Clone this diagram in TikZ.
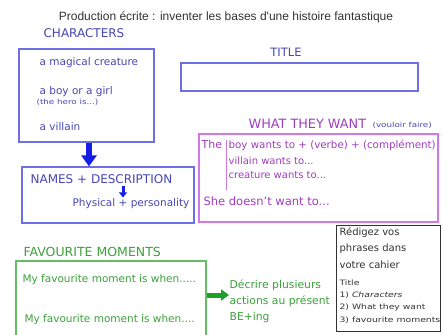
\documentclass[tikz,border=0pt]{standalone}
\usepackage{fontspec}
\setmainfont{DejaVu Sans}
\newfontfamily\headfont{Liberation Sans}
\newfontfamily\smallfont[FakeStretch=1.25]{DejaVu Sans}
\usetikzlibrary{arrows.meta}
\definecolor{bluetxt}{RGB}{70,70,180}
\definecolor{blueline}{RGB}{110,110,230}
\definecolor{bluearrow}{RGB}{20,30,230}
\definecolor{pinktxt}{RGB}{160,60,190}
\definecolor{pinkline}{RGB}{210,120,230}
\definecolor{greentxt}{RGB}{60,160,60}
\definecolor{greenline}{RGB}{100,190,100}
\definecolor{greenarrow}{RGB}{30,160,40}
\definecolor{greytxt}{RGB}{50,50,50}
\newcommand{\fs}[1]{\fontsize{#1}{#1}\selectfont}
\begin{document}
\begin{tikzpicture}[x=1pt,y=-1pt,line width=1.2pt,
  txt/.style={anchor=base west,inner sep=0pt},
  frame/.style={draw,inner sep=0pt},
  fat/.style={line width=#1,line cap=butt}]
\useasboundingbox (0,0) rectangle (443,334);
\node[anchor=base,inner sep=0pt,greytxt,font=\headfont\fs{12}] (head) at (226,21) {Production écrite : inventer les bases d'une histoire fantastique};
% characters
\node[txt,bluetxt,font=\fs{12}] (charlbl) at (43,38) {CHARACTERS};
\node[frame,blueline,minimum width=135,minimum height=93] (chars) at (86.5,95.5) {};
\foreach \y/\t [count=\i] in {66/a magical creature,94/a boy or a girl,130/a villain}{\node[txt,bluetxt,font=\fs{10.5}] (ch\i) at (39,\y) {\t};}
\node[txt,bluetxt,font=\smallfont\fs{7}] (hero) at (36,104) {(the hero is...)};
\node[frame,blueline,minimum width=172,minimum height=56] (names) at (108,195) {};
\node[txt,bluetxt,font=\fs{12}] (nd) at (30,183) {NAMES + DESCRIPTION};
\node[txt,bluetxt,font=\fs{10.5}] (phys) at (72,206) {Physical + personality};
\draw[bluearrow,fat=6pt,-{Triangle[width=15pt,length=11pt]}] ([xshift=2.5]chars.south) -- ([xshift=2.5]chars.south |- names.north);
\coordinate (sa) at (123,186);
\draw[bluearrow,fat=3pt,-{Triangle[width=8pt,length=5pt]}] (sa) -- (sa |- phys.north);
% title
\node[anchor=base,inner sep=0pt,bluetxt,font=\fs{11.5}] (titlelbl) at (286,57) {TITLE};
\node[frame,blueline,minimum width=237,minimum height=28] (titlebox) at (299.5,77) {};
% what they want
\node[txt,pinktxt,font=\fs{12.8}] (wantlbl) at (248,128) {WHAT THEY WANT};
\node[txt,bluetxt,font=\smallfont\fs{7}] (vouloir) at (372,127) {(vouloir faire)};
\node[frame,pinkline,minimum width=239,minimum height=88] (want) at (318.5,178) {};
\node[txt,pinktxt,font=\fs{11}] (the) at (201,148) {The};
\node[txt,pinktxt,font=\fs{10.3}] (boy) at (228,148) {boy wants to + (verbe) + (complément)};
\node[txt,pinktxt,font=\fs{10}] (vil) at (228,164) {villain wants to...};
\node[txt,pinktxt,font=\fs{10}] (cre) at (228,178) {creature wants to...};
\node[txt,pinktxt,font=\fs{11.5}] (she) at (203,205) {She doesn't want to...};
\coordinate (bar) at (226,140);
\draw[pinkline,line width=1pt] (bar) -- (bar |- 0,190);
% cahier
\node[frame,greytxt,line width=1pt,minimum width=104,minimum height=106] (cahier) at (388,278) {};
\foreach \y/\t [count=\i] in {235/Rédigez vos,251/phrases dans,268/votre cahier}{\node[txt,greytxt,font=\fs{10}] (ca\i) at (339,\y) {\t};}
\foreach \y/\t [count=\i] in {285/Title,297/1) \textit{Characters},309/2) What they want,322/3) favourite moments}{\node[txt,greytxt,font=\smallfont\fs{7.4}] (pl\i) at (339,\y) {\t};}
% favourite moments
\node[txt,greentxt,font=\fs{12.5}] (favlbl) at (23,256) {FAVOURITE MOMENTS};
\node[frame,greenline,minimum width=190,minimum height=90] (fav) at (111,306) {};
\node[txt,greentxt,font=\fs{10.5}] (mo1) at (22,282) {My favourite moment is when.....};
\node[txt,greentxt,font=\fs{10.5}] (mo2) at (24,322) {My favourite moment is when....};
\foreach \y/\t [count=\i] in {288/Décrire plusieurs,304/actions au présent,320/BE+ing}{\node[txt,greentxt,font=\fs{10.8}] (de\i) at (229,\y) {\t};}
\coordinate (ga) at (207,295);
\draw[greenarrow,fat=5pt,-{Triangle[width=11pt,length=8pt]}] (ga) -- (ga -| de2.west);
\end{tikzpicture}
\end{document}
